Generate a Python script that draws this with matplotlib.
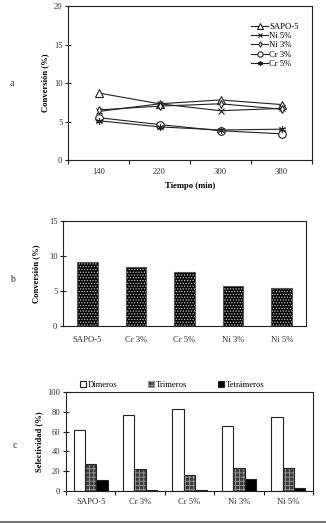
import matplotlib
matplotlib.use("Agg")
import matplotlib.pyplot as plt
import numpy as np
from matplotlib.lines import Line2D
from matplotlib.patches import Patch

plt.rcParams['font.family'] = ['Liberation Serif', 'DejaVu Serif']
plt.rcParams['hatch.linewidth'] = 0.6

# ---- data ----
times = ["140", "220", "300", "380"]
series_names = ["SAPO-5", "Ni 5%", "Ni 3%", "Cr 3%", "Cr 5%"]
sapo5 = [8.7, 7.3, 7.8, 7.2]
ni5 = [6.3, 7.3, 6.4, 6.7]
ni3 = [6.5, 7.0, 7.3, 6.6]
cr3 = [5.5, 4.6, 3.8, 3.4]
cr5 = [5.1, 4.3, 3.9, 4.0]

catalysts = ["SAPO-5", "Cr 3%", "Cr 5%", "Ni 3%", "Ni 5%"]
conversion = [9.2, 8.5, 7.65, 5.7, 5.45]

sel_names = ["Dimeros", "Trimeros", "Tetrámeros"]
dimeros = [62, 77, 83, 66, 75]
trimeros = [27, 22, 16, 23, 23]
tetrameros = [11, 1, 1, 12, 3]

W, H = 326, 524
fig = plt.figure(figsize=(W / 100, H / 100), dpi=100)


def ax_px(x0, y0, x1, y1):
    return fig.add_axes([x0 / W, 1 - y1 / H, (x1 - x0) / W, (y1 - y0) / H])


fs = 6.2
tc = '#333333'
sc = '#222222'


def style(ax):
    for s in ax.spines.values():
        s.set_color(sc)
        s.set_linewidth(0.8)
    ax.tick_params(axis='y', direction='inout', length=4, width=0.8,
                   labelsize=fs, labelcolor=tc, color=sc, pad=2)


# ---- panel a ----
axa = ax_px(68, 6, 312, 160)
style(axa)
xa = np.arange(len(times))
markers = ['^', 'x', 'd', 'o', (6, 2, 0)]
msizes = [5.5, 5, 4, 5.5, 5]
vals = [sapo5, ni5, ni3, cr3, cr5]
for name, v, m, ms in zip(series_names, vals, markers, msizes):
    axa.plot(xa, v, color=sc, lw=0.8, marker=m, ms=ms, mfc='white',
             mec=sc, mew=0.8, label=name)
axa.set_xlim(-0.5, len(times) - 0.5)
axa.set_ylim(0, 20)
axa.set_yticks([0, 5, 10, 15, 20])
axa.set_xticks(xa)
axa.set_xticklabels(times)
axa.set_xticks(np.arange(-0.5, len(times), 1.0), minor=True)
axa.tick_params(axis='x', which='major', length=0, labelsize=fs,
                labelcolor=tc, pad=6)
axa.tick_params(axis='x', which='minor', direction='out', length=3,
                width=0.8, color=sc)
axa.set_xlabel("Tiempo (min)", fontsize=fs, fontweight='bold', labelpad=4)
axa.set_ylabel("Conversión (%)", fontsize=fs, fontweight='bold', labelpad=3)
axa.legend(loc='upper right', bbox_to_anchor=(0.97, 0.93), frameon=False,
           fontsize=fs, handlelength=2.0, handletextpad=0.1,
           labelspacing=0.15, borderpad=0.2, markerscale=0.7)
fig.text(12 / W, 1 - 84 / H, "a", fontsize=7, ha='center', va='center',
         color=tc)

# ---- panel b ----
axb = ax_px(63, 221, 306, 326)
style(axb)
xb = np.arange(len(catalysts))
axb.bar(xb, conversion, width=0.42, color='black', edgecolor='#c8c8c8',
        hatch='......', lw=0)
axb.bar(xb, conversion, width=0.42, fill=False, edgecolor='#555555', lw=0.8)
axb.set_xlim(-0.5, len(catalysts) - 0.5)
axb.set_ylim(0, 15)
axb.set_yticks([0, 5, 10, 15])
axb.set_xticks(xb)
axb.set_xticklabels(catalysts)
axb.tick_params(axis='x', length=0, labelsize=fs, labelcolor=tc, pad=7)
axb.set_ylabel("Conversión (%)", fontsize=fs, fontweight='bold', labelpad=6)
fig.text(12 / W, 1 - 279 / H, "b", fontsize=7, ha='center', va='center',
         color=tc)

# ---- panel c ----
axc = ax_px(66, 392, 313, 491)
style(axc)
xc = np.arange(len(catalysts))
bw = 0.23
axc.bar(xc - bw, dimeros, width=bw, color='white', edgecolor=sc, lw=0.8)
axc.bar(xc, trimeros, width=bw, color='#3c3c3c', edgecolor='#9a9a9a',
        hatch='++++', lw=0)
axc.bar(xc, trimeros, width=bw, fill=False, edgecolor=sc, lw=0.8)
axc.bar(xc + bw, tetrameros, width=bw, color='black', edgecolor=sc, lw=0.8)
axc.set_xlim(-0.5, len(catalysts) - 0.5)
axc.set_ylim(0, 100)
axc.set_yticks(np.arange(0, 101, 20))
axc.set_xticks(xc)
axc.set_xticklabels(catalysts)
axc.set_xticks(np.arange(-0.5, len(catalysts), 1.0), minor=True)
axc.tick_params(axis='x', which='major', length=0, labelsize=fs,
                labelcolor=tc, pad=5)
axc.tick_params(axis='x', which='minor', direction='out', length=3,
                width=0.8, color=sc)
axc.set_ylabel("Selectividad (%)", fontsize=fs, fontweight='bold',
               labelpad=3)
handles = [Patch(facecolor='white', edgecolor=sc, lw=0.8),
           Patch(facecolor='#3c3c3c', edgecolor='#9a9a9a', hatch='++++', lw=0.8),
           Patch(facecolor='black', edgecolor=sc, lw=0.8)]
axc.legend(handles, sel_names, loc='lower center',
           bbox_to_anchor=(0.43, 0.98), ncol=3, frameon=False, fontsize=fs,
           handlelength=0.7, handleheight=0.7, handletextpad=0.2,
           columnspacing=3.6, borderpad=0.1)
fig.text(15 / W, 1 - 445 / H, "c", fontsize=7, ha='center', va='center',
         color=tc)

# bottom separator line
fig.add_artist(Line2D([0, 1], [1 - 522 / H, 1 - 522 / H], color='#777777',
                      lw=1.5, transform=fig.transFigure))

fig.savefig("out.png", dpi=100)
